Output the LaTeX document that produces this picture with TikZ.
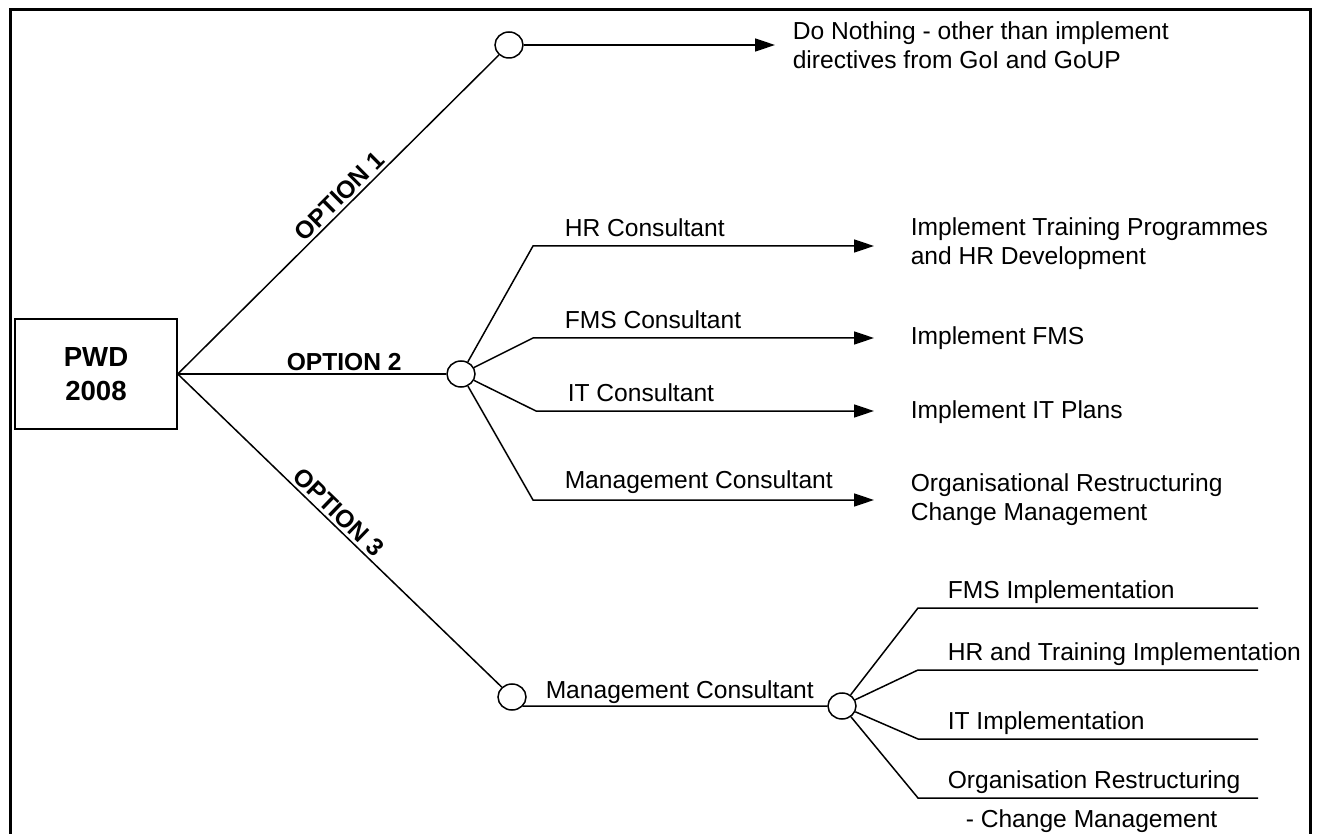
\documentclass[tikz,border=0pt]{standalone}
\usepackage{fontspec}
\setmainfont{Liberation Sans}
\usetikzlibrary{shapes.geometric,arrows.meta}

\begin{document}
\begin{tikzpicture}[x=0.5pt,y=-0.5pt,line width=0.75pt,
  font=\fontsize{12.3}{14.5}\selectfont,
  knot/.style={ellipse,draw,fill=white,minimum width=14pt,minimum height=13pt,inner sep=0pt},
  txt/.style={anchor=west,inner sep=0pt,align=left},
  opt/.style={font=\fontsize{12.3}{14.5}\selectfont\bfseries,inner sep=1.5pt},
  arr/.style={-{Triangle[length=10pt,width=6.5pt]},shorten >=18pt}]
\useasboundingbox (0,0) rectangle (1318,834);
\draw[line width=1.5pt] (10,850) -- (10,10) -- (1310,10) -- (1310,850);
\node[draw,minimum width=81pt,minimum height=55pt,align=center,
  font=\fontsize{13.8}{17}\selectfont\bfseries] (pwd) at (96,374) {PWD\\2008};
\node[knot] (o1) at (509,45) {};
\node[knot] (o2) at (461,374) {};
\node[knot] (o3a) at (512,697) {};
\node[knot] (o3b) at (842,706) {};
\draw (pwd.east) -- node[opt,above,sloped,pos=0.53] {OPTION 1} (o1);
\draw (pwd.east) -- node[opt,above,pos=0.62] {OPTION 2} (o2);
\draw (pwd.east) -- node[opt,above,sloped,pos=0.47] {OPTION 3} (o3a);
\node[txt] (dono) at (792,45) {Do Nothing - other than implement\\directives from GoI and GoUP};
\draw[arr,shorten >=8.5pt] (o1) -- (o1 -| dono.west);
\node[txt] (hrdo) at (910,244) {Implement Training Programmes\\and HR Development};
\node[txt] (fmsdo) at (910,338) {Implement FMS};
\node[txt] (itdo) at (910,412) {Implement IT Plans};
\node[txt] (mgdo) at (910,500) {Organisational Restructuring\\Change Management};
\foreach \n/\x/\y/\t in %
{hr/533/246/HR Consultant,fms/533/338/FMS Consultant,it/536/411/IT Consultant,mg/533/500/Management Consultant} {
   \coordinate (\n k) at (\x,\y);
   \draw[arr] (o2) -- (\n k) -- (\n k -| \n do.west);
   \node[txt] (\n lab) at (\x+31,\y-18) {\t};
}
\draw (o3a.-40) -- (o3b);
\node[txt] (mclab) at (545,692) {Management Consultant};
\foreach \n/\y/\t in %
{fms/608/FMS Implementation,hr/670/HR and Training Implementation,it/739/IT Implementation,org/798/Organisation Restructuring} {
   \coordinate (\n imk) at (918,\y);
   \coordinate (\n imend) at (1258,\y);
   \draw (o3b) -- (\n imk) -- (\n imend);
   \node[txt] (\n imlab) at (947,\y-16) {\t};
}
\node[txt] (orgimlab2) at (965,821) {- Change Management};
\end{tikzpicture}
\end{document}
